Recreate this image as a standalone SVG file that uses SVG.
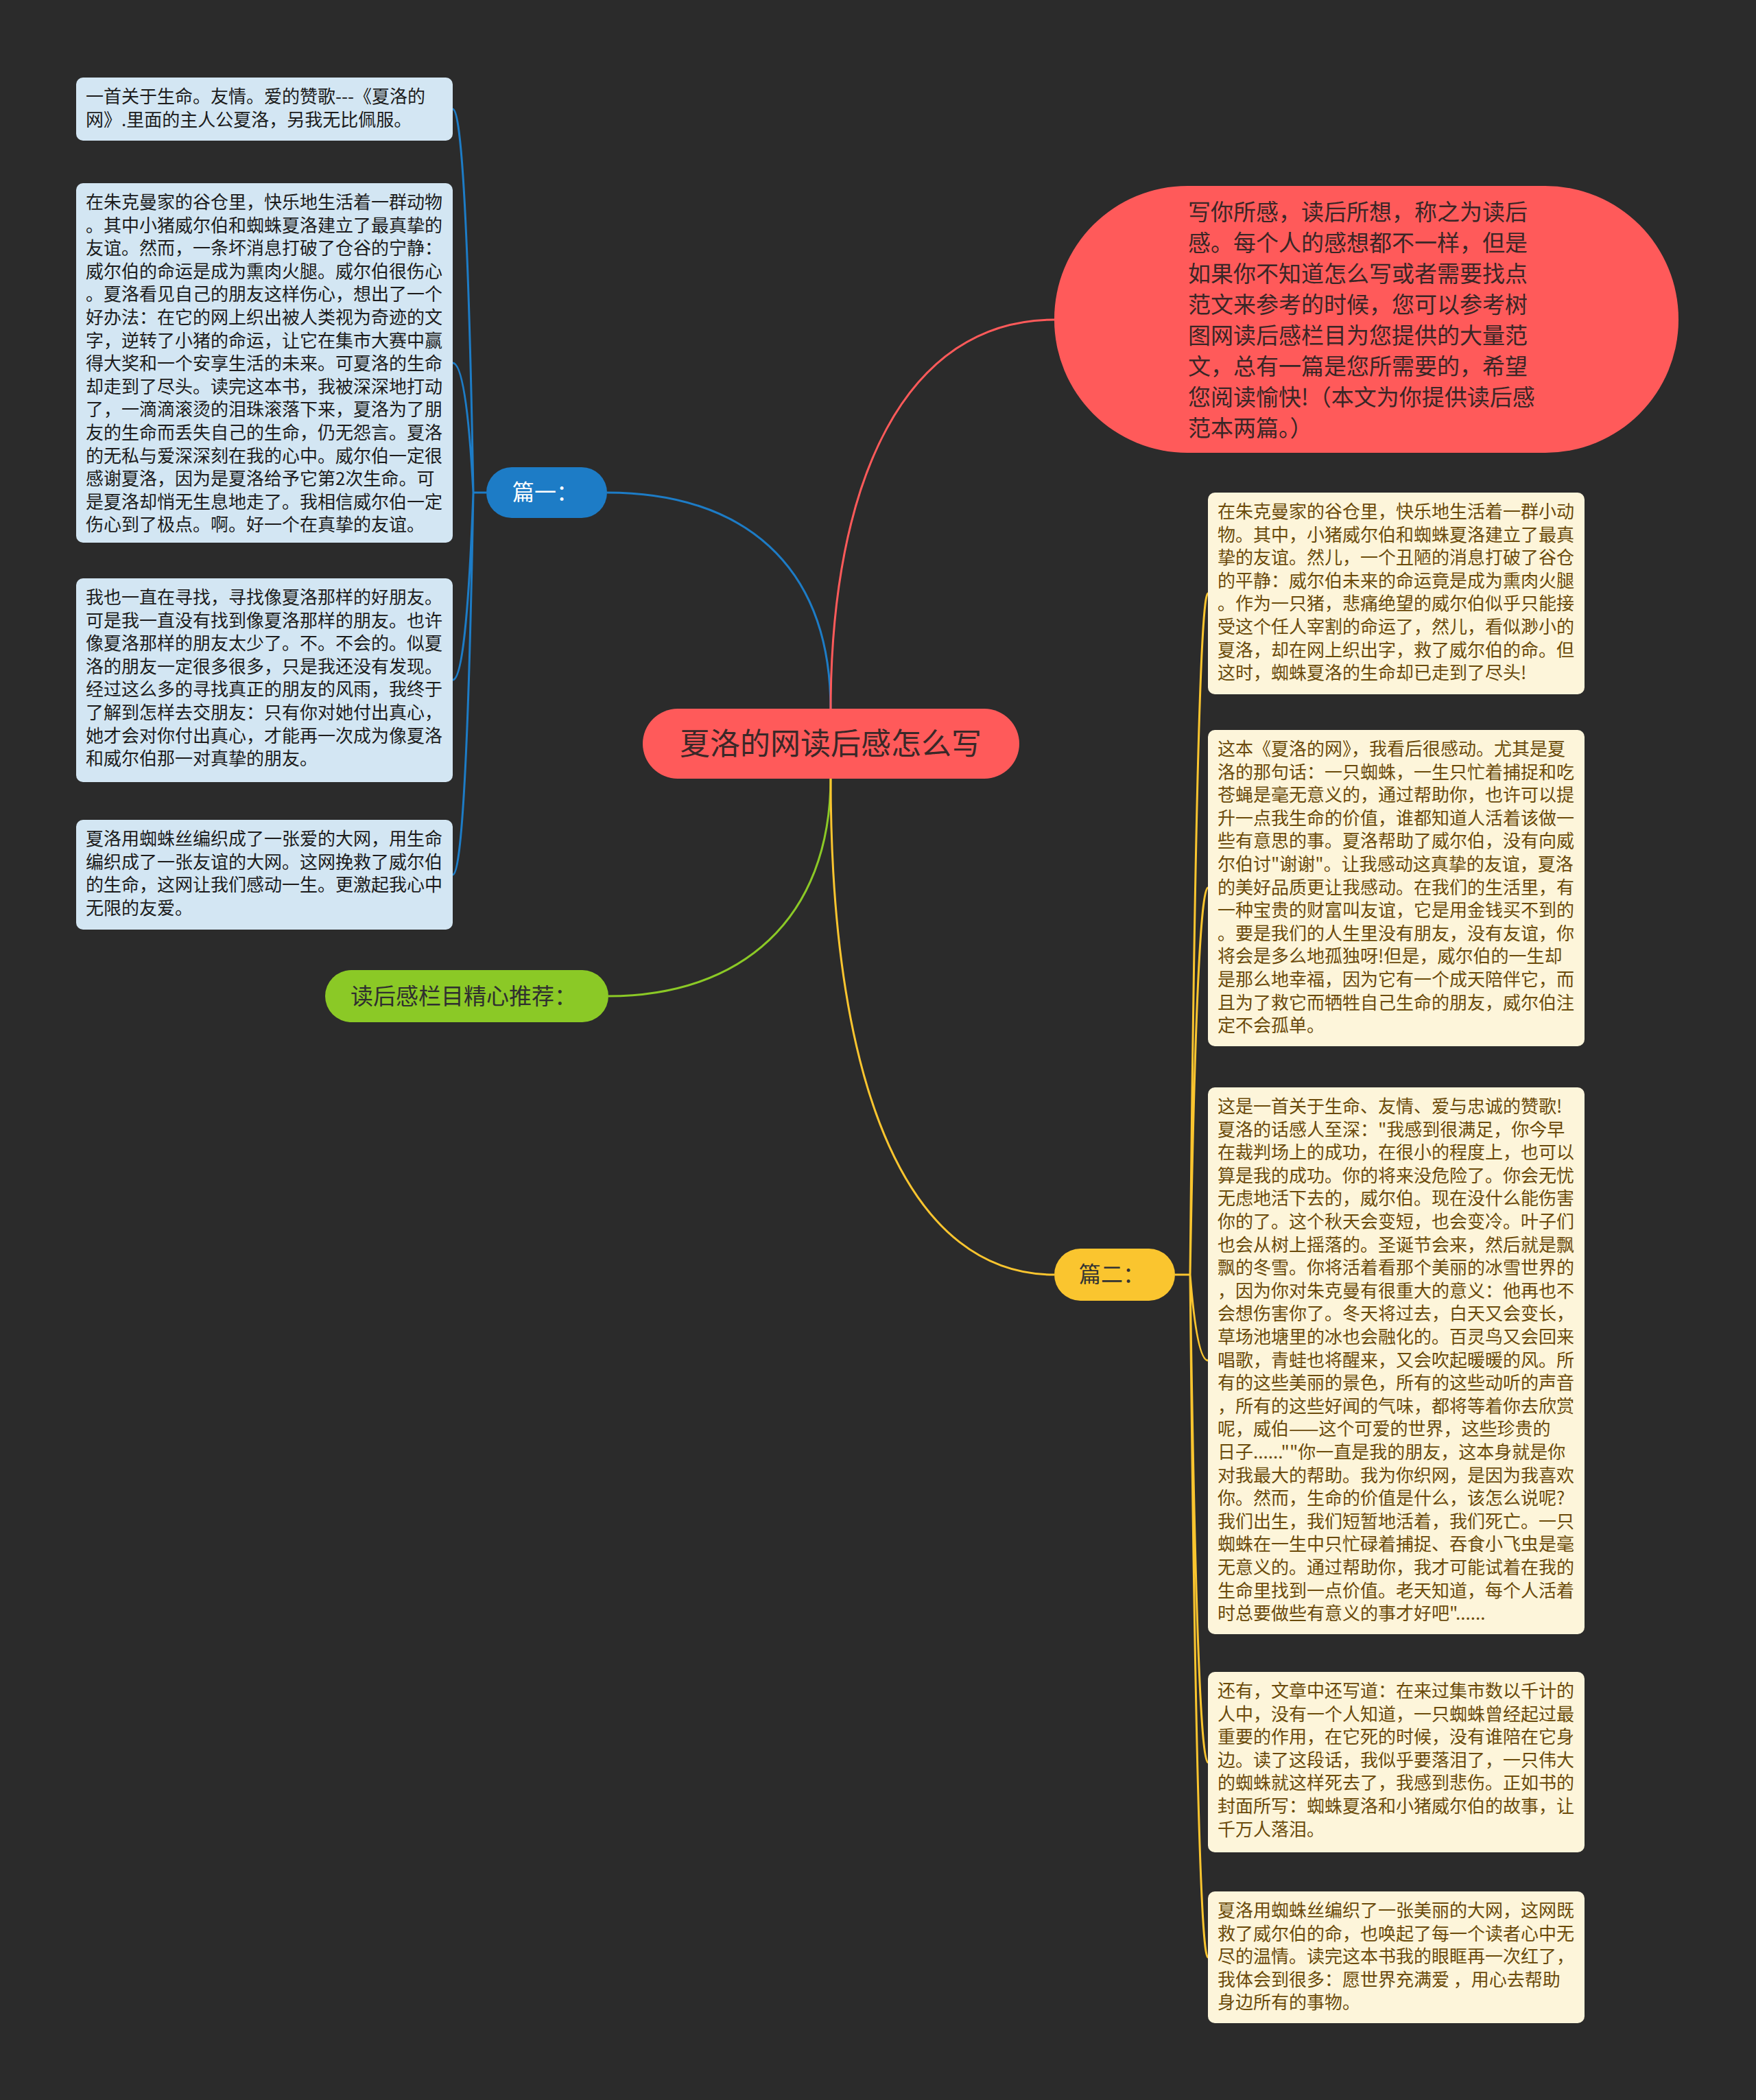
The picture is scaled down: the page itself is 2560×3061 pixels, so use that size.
<svg xmlns="http://www.w3.org/2000/svg" width="2560" height="3061" viewBox="0 0 2560 3061">
<style>
text{font-family:"Noto Sans CJK SC","Noto Sans",sans-serif;}
.lb{fill:#d3e6f3;}
.lt{font-size:26px;fill:#1c1c1c;}
.rb{fill:#fdf5da;}
.rt{font-size:26px;fill:#6b4b0b;}
.c{fill:none;stroke-width:3;}
</style>
<rect x="0" y="0" width="2560" height="3061" fill="#2b2b2b"/>
<g id="connectors">
<path class="c" stroke="#1d7cc6" d="M1211,1035 C1211,820 1080,718 885,718"/>
<path class="c" stroke="#ff5a5a" d="M1211,1035 C1211,700 1320,466 1537,466"/>
<path class="c" stroke="#8bc926" d="M1211,1133 C1211,1340 1080,1452 887,1452"/>
<path class="c" stroke="#fac52f" d="M1211,1133 C1211,1600 1330,1858 1537,1858"/>
<path class="c" stroke="#1d7cc6" d="M709,718 L690,718 Q680,159 660,159 M690,718 Q680,529 660,529 M690,718 Q680,991 660,991 M690,718 Q680,1275 660,1275"/>
<path class="c" stroke="#fac52f" d="M1713,1858 L1735,1858 Q1745,865 1761,865 M1735,1858 Q1745,1294 1761,1294 M1735,1858 Q1745,1983 1761,1983 M1735,1858 Q1745,2569 1761,2569 M1735,1858 Q1745,2853 1761,2853"/>
</g>
<g id="central">
<rect x="937" y="1033" width="549" height="102" rx="51" fill="#ff5a5a"/>
<text x="1211" y="1100" text-anchor="middle" font-size="44" fill="#3a2828">夏洛的网读后感怎么写</text>
</g>
<g id="intro">
<rect x="1537" y="271" width="910" height="389" rx="194" fill="#ff5a5a"/>
<text font-size="33" fill="#3a2626">
<tspan x="1732" y="321">写你所感，读后所想，称之为读后</tspan>
<tspan x="1732" y="366">感。每个人的感想都不一样，但是</tspan>
<tspan x="1732" y="411">如果你不知道怎么写或者需要找点</tspan>
<tspan x="1732" y="456">范文来参考的时候，您可以参考树</tspan>
<tspan x="1732" y="501">图网读后感栏目为您提供的大量范</tspan>
<tspan x="1732" y="546">文，总有一篇是您所需要的，希望</tspan>
<tspan x="1732" y="591">您阅读愉快!（本文为你提供读后感</tspan>
<tspan x="1732" y="636">范本两篇。）</tspan>
</text>
</g>
<g id="pian1">
<rect x="709" y="681" width="176" height="74" rx="37" fill="#1d7cc6"/>
<text x="747" y="729" font-size="32" fill="#ffffff">篇一：</text>
</g>
<g id="recommend">
<rect x="474" y="1414" width="413" height="76" rx="38" fill="#8bc926"/>
<text x="511" y="1464" font-size="33" fill="#2f2f2f">读后感栏目精心推荐：</text>
</g>
<g id="pian2">
<rect x="1537" y="1820" width="176" height="76" rx="38" fill="#fac52f"/>
<text x="1573" y="1869" font-size="32" fill="#333333">篇二：</text>
</g>
<g id="l1">
<rect class="lb" x="111" y="113" width="549" height="92" rx="10"/>
<text class="lt">
<tspan x="125" y="150">一首关于生命。友情。爱的赞歌---《夏洛的</tspan>
<tspan x="125" y="183.6">网》.里面的主人公夏洛，另我无比佩服。</tspan>
</text>
</g>
<g id="l2">
<rect class="lb" x="111" y="267" width="549" height="524" rx="10"/>
<text class="lt">
<tspan x="125" y="304">在朱克曼家的谷仓里，快乐地生活着一群动物</tspan>
<tspan x="125" y="337.6">。其中小猪威尔伯和蜘蛛夏洛建立了最真挚的</tspan>
<tspan x="125" y="371.2">友谊。然而，一条坏消息打破了仓谷的宁静：</tspan>
<tspan x="125" y="404.8">威尔伯的命运是成为熏肉火腿。威尔伯很伤心</tspan>
<tspan x="125" y="438.4">。夏洛看见自己的朋友这样伤心，想出了一个</tspan>
<tspan x="125" y="472">好办法：在它的网上织出被人类视为奇迹的文</tspan>
<tspan x="125" y="505.6">字，逆转了小猪的命运，让它在集市大赛中赢</tspan>
<tspan x="125" y="539.2">得大奖和一个安享生活的未来。可夏洛的生命</tspan>
<tspan x="125" y="572.8">却走到了尽头。读完这本书，我被深深地打动</tspan>
<tspan x="125" y="606.4">了，一滴滴滚烫的泪珠滚落下来，夏洛为了朋</tspan>
<tspan x="125" y="640">友的生命而丢失自己的生命，仍无怨言。夏洛</tspan>
<tspan x="125" y="673.6">的无私与爱深深刻在我的心中。威尔伯一定很</tspan>
<tspan x="125" y="707.2">感谢夏洛，因为是夏洛给予它第2次生命。可</tspan>
<tspan x="125" y="740.8">是夏洛却悄无生息地走了。我相信威尔伯一定</tspan>
<tspan x="125" y="774.4">伤心到了极点。啊。好一个在真挚的友谊。</tspan>
</text>
</g>
<g id="l3">
<rect class="lb" x="111" y="843" width="549" height="297" rx="10"/>
<text class="lt">
<tspan x="125" y="880">我也一直在寻找，寻找像夏洛那样的好朋友。</tspan>
<tspan x="125" y="913.6">可是我一直没有找到像夏洛那样的朋友。也许</tspan>
<tspan x="125" y="947.2">像夏洛那样的朋友太少了。不。不会的。似夏</tspan>
<tspan x="125" y="980.8">洛的朋友一定很多很多，只是我还没有发现。</tspan>
<tspan x="125" y="1014.4">经过这么多的寻找真正的朋友的风雨，我终于</tspan>
<tspan x="125" y="1048">了解到怎样去交朋友：只有你对她付出真心，</tspan>
<tspan x="125" y="1081.6">她才会对你付出真心，才能再一次成为像夏洛</tspan>
<tspan x="125" y="1115.2">和威尔伯那一对真挚的朋友。</tspan>
</text>
</g>
<g id="l4">
<rect class="lb" x="111" y="1195" width="549" height="160" rx="10"/>
<text class="lt">
<tspan x="125" y="1232">夏洛用蜘蛛丝编织成了一张爱的大网，用生命</tspan>
<tspan x="125" y="1265.6">编织成了一张友谊的大网。这网挽救了威尔伯</tspan>
<tspan x="125" y="1299.2">的生命，这网让我们感动一生。更激起我心中</tspan>
<tspan x="125" y="1332.8">无限的友爱。</tspan>
</text>
</g>
<g id="r1">
<rect class="rb" x="1761" y="718" width="549" height="294" rx="10"/>
<text class="rt">
<tspan x="1775" y="755">在朱克曼家的谷仓里，快乐地生活着一群小动</tspan>
<tspan x="1775" y="788.6">物。其中，小猪威尔伯和蜘蛛夏洛建立了最真</tspan>
<tspan x="1775" y="822.2">挚的友谊。然儿，一个丑陋的消息打破了谷仓</tspan>
<tspan x="1775" y="855.8">的平静：威尔伯未来的命运竟是成为熏肉火腿</tspan>
<tspan x="1775" y="889.4">。作为一只猪，悲痛绝望的威尔伯似乎只能接</tspan>
<tspan x="1775" y="923">受这个任人宰割的命运了，然儿，看似渺小的</tspan>
<tspan x="1775" y="956.6">夏洛，却在网上织出字，救了威尔伯的命。但</tspan>
<tspan x="1775" y="990.2">这时，蜘蛛夏洛的生命却已走到了尽头!</tspan>
</text>
</g>
<g id="r2">
<rect class="rb" x="1761" y="1064" width="549" height="461" rx="10"/>
<text class="rt">
<tspan x="1775" y="1101">这本《夏洛的网》，我看后很感动。尤其是夏</tspan>
<tspan x="1775" y="1134.6">洛的那句话：一只蜘蛛，一生只忙着捕捉和吃</tspan>
<tspan x="1775" y="1168.2">苍蝇是毫无意义的，通过帮助你，也许可以提</tspan>
<tspan x="1775" y="1201.8">升一点我生命的价值，谁都知道人活着该做一</tspan>
<tspan x="1775" y="1235.4">些有意思的事。夏洛帮助了威尔伯，没有向威</tspan>
<tspan x="1775" y="1269">尔伯讨"谢谢"。让我感动这真挚的友谊，夏洛</tspan>
<tspan x="1775" y="1302.6">的美好品质更让我感动。在我们的生活里，有</tspan>
<tspan x="1775" y="1336.2">一种宝贵的财富叫友谊，它是用金钱买不到的</tspan>
<tspan x="1775" y="1369.8">。要是我们的人生里没有朋友，没有友谊，你</tspan>
<tspan x="1775" y="1403.4">将会是多么地孤独呀!但是，威尔伯的一生却</tspan>
<tspan x="1775" y="1437">是那么地幸福，因为它有一个成天陪伴它，而</tspan>
<tspan x="1775" y="1470.6">且为了救它而牺牲自己生命的朋友，威尔伯注</tspan>
<tspan x="1775" y="1504.2">定不会孤单。</tspan>
</text>
</g>
<g id="r3">
<rect class="rb" x="1761" y="1585" width="549" height="797" rx="10"/>
<text class="rt">
<tspan x="1775" y="1622">这是一首关于生命、友情、爱与忠诚的赞歌!</tspan>
<tspan x="1775" y="1655.6">夏洛的话感人至深："我感到很满足，你今早</tspan>
<tspan x="1775" y="1689.2">在裁判场上的成功，在很小的程度上，也可以</tspan>
<tspan x="1775" y="1722.8">算是我的成功。你的将来没危险了。你会无忧</tspan>
<tspan x="1775" y="1756.4">无虑地活下去的，威尔伯。现在没什么能伤害</tspan>
<tspan x="1775" y="1790">你的了。这个秋天会变短，也会变冷。叶子们</tspan>
<tspan x="1775" y="1823.6">也会从树上摇落的。圣诞节会来，然后就是飘</tspan>
<tspan x="1775" y="1857.2">飘的冬雪。你将活着看那个美丽的冰雪世界的</tspan>
<tspan x="1775" y="1890.8">，因为你对朱克曼有很重大的意义：他再也不</tspan>
<tspan x="1775" y="1924.4">会想伤害你了。冬天将过去，白天又会变长，</tspan>
<tspan x="1775" y="1958">草场池塘里的冰也会融化的。百灵鸟又会回来</tspan>
<tspan x="1775" y="1991.6">唱歌，青蛙也将醒来，又会吹起暖暖的风。所</tspan>
<tspan x="1775" y="2025.2">有的这些美丽的景色，所有的这些动听的声音</tspan>
<tspan x="1775" y="2058.8">，所有的这些好闻的气味，都将等着你去欣赏</tspan>
<tspan x="1775" y="2092.4">呢，威伯——这个可爱的世界，这些珍贵的</tspan>
<tspan x="1775" y="2126">日子......""你一直是我的朋友，这本身就是你</tspan>
<tspan x="1775" y="2159.6">对我最大的帮助。我为你织网，是因为我喜欢</tspan>
<tspan x="1775" y="2193.2">你。然而，生命的价值是什么，该怎么说呢?</tspan>
<tspan x="1775" y="2226.8">我们出生，我们短暂地活着，我们死亡。一只</tspan>
<tspan x="1775" y="2260.4">蜘蛛在一生中只忙碌着捕捉、吞食小飞虫是毫</tspan>
<tspan x="1775" y="2294">无意义的。通过帮助你，我才可能试着在我的</tspan>
<tspan x="1775" y="2327.6">生命里找到一点价值。老天知道，每个人活着</tspan>
<tspan x="1775" y="2361.2">时总要做些有意义的事才好吧"......</tspan>
</text>
</g>
<g id="r4">
<rect class="rb" x="1761" y="2437" width="549" height="263" rx="10"/>
<text class="rt">
<tspan x="1775" y="2474">还有，文章中还写道：在来过集市数以千计的</tspan>
<tspan x="1775" y="2507.6">人中，没有一个人知道，一只蜘蛛曾经起过最</tspan>
<tspan x="1775" y="2541.2">重要的作用，在它死的时候，没有谁陪在它身</tspan>
<tspan x="1775" y="2574.8">边。读了这段话，我似乎要落泪了，一只伟大</tspan>
<tspan x="1775" y="2608.4">的蜘蛛就这样死去了，我感到悲伤。正如书的</tspan>
<tspan x="1775" y="2642">封面所写：蜘蛛夏洛和小猪威尔伯的故事，让</tspan>
<tspan x="1775" y="2675.6">千万人落泪。</tspan>
</text>
</g>
<g id="r5">
<rect class="rb" x="1761" y="2757" width="549" height="192" rx="10"/>
<text class="rt">
<tspan x="1775" y="2794">夏洛用蜘蛛丝编织了一张美丽的大网，这网既</tspan>
<tspan x="1775" y="2827.6">救了威尔伯的命，也唤起了每一个读者心中无</tspan>
<tspan x="1775" y="2861.2">尽的温情。读完这本书我的眼眶再一次红了，</tspan>
<tspan x="1775" y="2894.8">我体会到很多：愿世界充满爱 ，用心去帮助</tspan>
<tspan x="1775" y="2928.4">身边所有的事物。</tspan>
</text>
</g>
</svg>
